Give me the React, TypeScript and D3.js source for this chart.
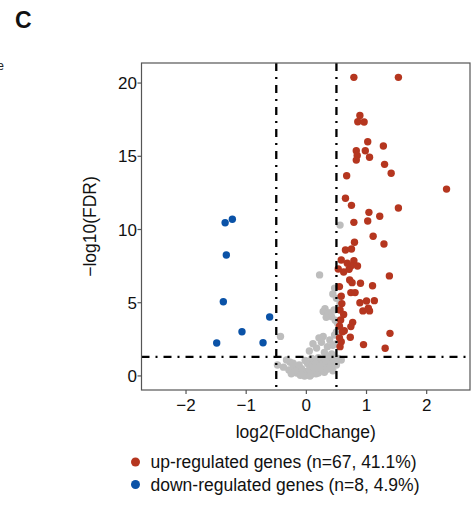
import React from 'react';
import * as d3 from 'd3';

// [log2FC, -log10 FDR]
const upGenes: [number, number][] = [
  [0.79, 20.39], [1.53, 20.39], [0.89, 17.79], [0.855, 17.36], [0.96, 17.34],
  [1.02, 15.99], [1.28, 15.7], [0.83, 15.38], [0.98, 15.38], [0.845, 15.06],
  [1.05, 14.93], [0.83, 14.74], [1.3, 14.45], [1.41, 13.84], [0.67, 13.67],
  [2.33, 12.76], [0.65, 12.13], [0.75, 11.65], [1.53, 11.47], [1.04, 11.17],
  [1.22, 10.9], [0.79, 10.49], [1.02, 10.58], [1.11, 9.54], [0.8, 9.13],
  [1.29, 9.01], [0.65, 8.6], [0.75, 8.67], [0.58, 7.92], [0.79, 7.87],
  [0.74, 7.51], [0.85, 7.51], [0.62, 7.1], [0.71, 7.28], [1.38, 6.83],
  [0.72, 6.55], [0.76, 6.37], [0.9, 6.33], [1.1, 6.16], [0.74, 5.69],
  [0.81, 5.69], [0.58, 5.44], [0.59, 4.94], [0.89, 5.0], [1.0, 5.12],
  [1.13, 5.14], [0.94, 4.44], [1.05, 4.44], [1.03, 4.62], [0.57, 3.82],
  [0.77, 3.66], [0.74, 3.37], [0.63, 3.09], [1.39, 2.91], [0.6, 3.02],
  [0.73, 2.64], [0.58, 2.34], [0.56, 2.0], [0.95, 2.14], [1.31, 1.89],
  [0.53, 7.3], [0.55, 6.1], [0.56, 4.5], [0.55, 3.4], [0.62, 4.2],
  [0.68, 7.7], [0.55, 2.6],
];

const downGenes: [number, number][] = [
  [-1.35, 10.46], [-1.23, 10.7], [-1.33, 8.26], [-1.38, 5.07],
  [-0.61, 4.03], [-1.07, 3.02], [-1.49, 2.25], [-0.72, 2.27],
];

const otherGenes: [number, number][] = [
  [0.22, 6.9], [0.56, 10.3], [0.47, 6.0], [0.44, 5.6], [0.5, 5.3],
  [0.56, 4.95], [0.31, 4.6], [0.28, 4.4], [0.36, 4.3], [0.42, 4.05],
  [0.39, 4.3], [0.46, 4.5], [0.33, 4.0], [0.48, 3.8], [0.52, 3.6],
  [-0.43, 2.7], [0.21, 2.6], [0.28, 2.7], [0.39, 2.45], [0.44, 2.1],
  [0.11, 2.2], [0.17, 1.9], [0.25, 2.3], [0.35, 2.0], [0.47, 2.8],
  [0.5, 3.0], [0.05, 1.7], [0.3, 1.6], [0.42, 1.5], [0.5, 2.2],
  [-0.48, 0.75], [-0.27, 0.93], [-0.29, 0.41], [-0.22, 0.55], [-0.16, 0.2],
  [-0.33, 1.09], [-0.22, 0.87], [-0.14, 0.41], [-0.05, 0.18], [0.03, 0.07],
  [0.11, 0.29], [0.17, 0.63], [0.22, 0.87], [0.31, 0.98], [0.39, 1.21],
  [0.06, 0.63], [0.58, 1.09], [-0.1, 0.05], [0.0, 0.3], [0.08, 0.1],
  [0.14, 0.45], [0.2, 0.2], [0.26, 0.55], [0.33, 0.7], [0.42, 0.9],
  [0.46, 1.1], [0.36, 1.25], [0.28, 1.15], [-0.08, 0.5], [-0.19, 0.3],
  [0.02, 0.85], [0.12, 0.95], [0.18, 1.05], [0.24, 0.4], [0.3, 0.25],
  [-0.03, 0.0], [0.05, 0.4], [0.1, 0.75], [0.16, 0.15], [0.37, 0.5],
  [0.44, 0.35], [0.5, 0.75], [0.53, 1.2], [-0.12, 0.75], [-0.38, 0.6],
  [0.27, 0.85], [0.09, 1.2], [0.2, 1.25], [0.34, 0.45], [0.4, 0.65],
  [-0.02, 1.05], [0.15, 0.85], [-0.25, 0.15], [0.06, 0.0], [0.22, 0.65],
  [0.13, 0.55], [0.32, 1.05], [0.48, 1.0],
];

const xTicks = [-2, -1, 0, 1, 2];
const yTicks = [0, 5, 10, 15, 20];
const fcCut = [-0.5, 0.5];
const fdrCut = 1.3;
const legendItems = [
  { label: 'up-regulated genes (n=67, 41.1%)', color: '#b5361f' },
  { label: 'down-regulated genes (n=8, 4.9%)', color: '#0a52a7' },
];

export default function App() {
  const W = 472, H = 505;
  const left = 141.5, right = 470, top = 63, bottom = 390;
  const font = 'Liberation Sans, Arial, Helvetica, sans-serif';

  const x = d3.scaleLinear().domain([-2.74, 2.72]).range([left, right]);
  const y = d3.scaleLinear().domain([-0.96, 21.37]).range([bottom, top]);
  const fmt = d3.format('d');

  const dots = (data: [number, number][], color: string) =>
    data.map((d, i) => (
      <circle key={color + i} cx={x(d[0])} cy={y(d[1])} r={3.7} fill={color} />
    ));

  return (
    <svg width={W} height={H} style={{ position: 'absolute', left: 0, top: 0, background: '#fff' }}
      fontFamily={font}>
      <text x={15} y={28} fontSize={23} fontWeight="bold" fill="#111">C</text>
      <text x={4} y={70} fontSize={12} textAnchor="end" fill="#222">e</text>

      {dots(otherGenes, '#bdbdbd')}
      {dots(downGenes, '#0a52a7')}
      {dots(upGenes, '#b5361f')}

      {fcCut.map(v => (
        <line key={v} x1={x(v)} x2={x(v)} y1={top} y2={bottom}
          stroke="#000" strokeWidth={2.3} strokeDasharray="8,6,2,6" />
      ))}
      <line x1={left} x2={right} y1={y(fdrCut)} y2={y(fdrCut)}
        stroke="#000" strokeWidth={2.3} strokeDasharray="8,6,2,6" />

      <rect x={left} y={top} width={right - left} height={bottom - top}
        fill="none" stroke="#555" strokeWidth={1.2} />

      {yTicks.map(t => (
        <g key={t}>
          <line x1={left - 4} x2={left} y1={y(t)} y2={y(t)} stroke="#555" strokeWidth={1.2} />
          <text x={left - 4.5} y={y(t)} dy="0.36em" textAnchor="end" fontSize={17} fill="#111">{fmt(t)}</text>
        </g>
      ))}
      {xTicks.map(t => (
        <g key={t}>
          <line x1={x(t)} x2={x(t)} y1={bottom} y2={bottom + 4} stroke="#555" strokeWidth={1.2} />
          <text x={x(t)} y={411} textAnchor="middle" fontSize={17} fill="#111">{fmt(t)}</text>
        </g>
      ))}

      <text x={(left + right) / 2} y={438} textAnchor="middle" fontSize={17.5} fill="#111">log2(FoldChange)</text>
      <text transform={`translate(96,${(top + bottom) / 2}) rotate(-90)`} textAnchor="middle"
        fontSize={17.5} fill="#111">−log10(FDR)</text>

      {legendItems.map((d, i) => (
        <g key={d.label} transform={`translate(135.5,${462 + i * 22.5})`}>
          <circle r={4.5} fill={d.color} />
          <text x={15} dy="0.36em" fontSize={17.5} fill="#111">{d.label}</text>
        </g>
      ))}
    </svg>
  );
}
